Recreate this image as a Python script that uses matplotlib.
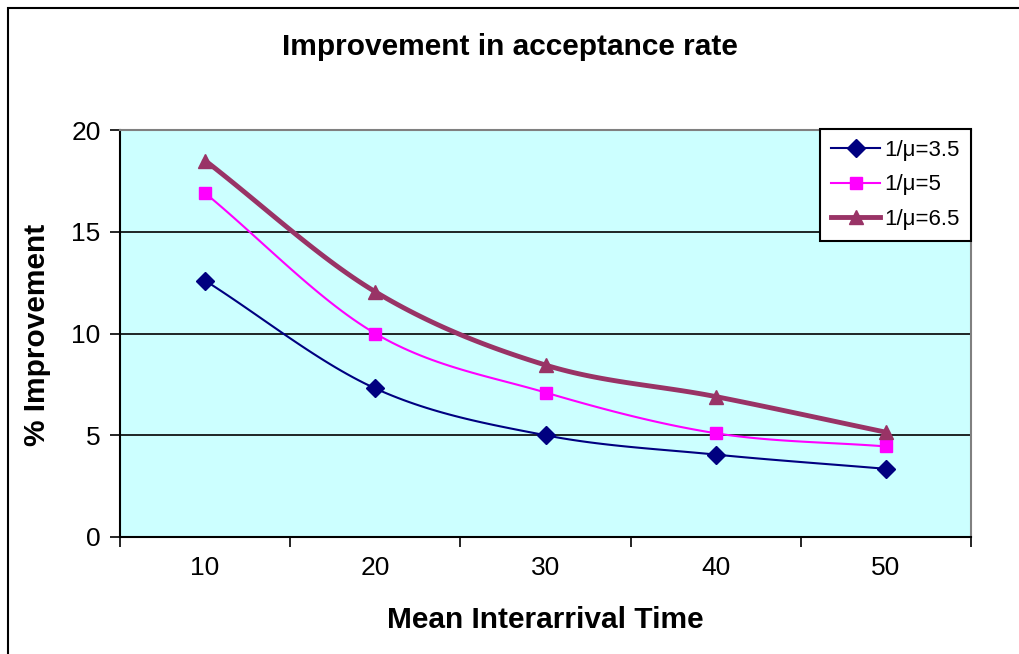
import numpy as np
import matplotlib
matplotlib.use("Agg")
import matplotlib.pyplot as plt
import matplotlib.patches as patches

plt.rcParams['font.family'] = ['Liberation Sans', 'DejaVu Sans']

# Veriler
kategoriler = [10, 20, 30, 40, 50]
seri_35 = [12.6, 7.3, 5.0, 4.05, 3.35]
seri_5 = [16.9, 10.0, 7.1, 5.1, 4.45]
seri_65 = [18.5, 12.05, 8.45, 6.9, 5.15]
etiketler = ['1/\u03bc=3.5', '1/\u03bc=5', '1/\u03bc=6.5']


def yumusat(x, y, n=30):
    # Excel'deki "smoothed line" benzeri Catmull-Rom egrisi (sadece cizim icin)
    x = np.asarray(x, float)
    y = np.asarray(y, float)
    px = np.concatenate([[2 * x[0] - x[1]], x, [2 * x[-1] - x[-2]]])
    py = np.concatenate([[2 * y[0] - y[1]], y, [2 * y[-1] - y[-2]]])
    ox, oy = [], []
    for i in range(1, len(px) - 2):
        t = np.linspace(0, 1, n, endpoint=False)
        for arr, out in ((px, ox), (py, oy)):
            p0, p1, p2, p3 = arr[i - 1], arr[i], arr[i + 1], arr[i + 2]
            out.extend(0.5 * (2 * p1 + (-p0 + p2) * t + (2 * p0 - 5 * p1 + 4 * p2 - p3) * t ** 2
                              + (-p0 + 3 * p1 - 3 * p2 + p3) * t ** 3))
    ox.append(x[-1])
    oy.append(y[-1])
    return np.array(ox), np.array(oy)


fig = plt.figure(figsize=(10.2, 6.54), dpi=100)
ax = fig.add_axes([120 / 1020, 1 - 537 / 654, (971 - 120) / 1020, (537 - 130) / 654])
ax.set_facecolor('#CCFFFF')

# Dis cerceve
fig.patches.append(patches.Rectangle((8 / 1020, -0.1), 1.2, 1 - 8 / 654 + 0.1,
                                     transform=fig.transFigure, fill=False,
                                     edgecolor='black', linewidth=1.5))

xpos = np.arange(len(kategoriler))
stiller = [
    (seri_35, '#000080', 1.5, 'D', 9),
    (seri_5, '#FF00FF', 1.5, 's', 8),
    (seri_65, '#993366', 3.5, '^', 10),
]
for (veri, renk, lw, mk, ms), etiket in zip(stiller, etiketler):
    sx, sy = yumusat(xpos, veri)
    ax.plot(sx, sy, color=renk, linewidth=lw, zorder=3)
    ax.plot(xpos, veri, linestyle='none', marker=mk, markersize=ms, color=renk, zorder=4)
    ax.plot([], [], color=renk, linewidth=lw, marker=mk, markersize=ms, label=etiket)

ax.set_xlim(-0.5, len(kategoriler) - 0.5)
ax.set_ylim(0, 20)
ax.set_yticks([0, 5, 10, 15, 20])
ax.yaxis.grid(True, color='black', linewidth=1.2)
ax.set_axisbelow(True)
ax.tick_params(axis='y', direction='out', length=7, width=1.2, labelsize=19, pad=7)

ax.set_xticks(np.arange(-0.5, len(kategoriler), 1.0))
ax.set_xticklabels([])
ax.set_xticks(xpos, minor=True)
ax.set_xticklabels([str(k) for k in kategoriler], minor=True)
ax.tick_params(axis='x', which='major', direction='out', length=7, width=1.2)
ax.tick_params(axis='x', which='minor', length=0, labelsize=19, pad=14)

for s in ['top', 'right']:
    ax.spines[s].set_color('#808080')
    ax.spines[s].set_linewidth(1.5)
for s in ['left', 'bottom']:
    ax.spines[s].set_color('black')
    ax.spines[s].set_linewidth(1.5)

fig.text(0.5, 1 - 47 / 654, 'Improvement in acceptance rate', ha='center', va='center',
         fontsize=21.5, fontweight='bold')
fig.text(545 / 1020, 1 - 620 / 654, 'Mean Interarrival Time', ha='center', va='center',
         fontsize=21.5, fontweight='bold')
fig.text(37 / 1020, 1 - 335 / 654, '% Improvement', ha='center', va='center',
         rotation=90, fontsize=21.5, fontweight='bold')

leg = ax.legend(loc='upper right', bbox_to_anchor=(971 / 1020, 1 - 129 / 654),
                bbox_transform=fig.transFigure, fontsize=16, frameon=True, fancybox=False,
                framealpha=1, edgecolor='black', borderpad=0.5, labelspacing=0.6,
                handlelength=2.2, handletextpad=0.2, borderaxespad=0)
leg.get_frame().set_linewidth(1.5)

fig.savefig('out.png', dpi=100)
